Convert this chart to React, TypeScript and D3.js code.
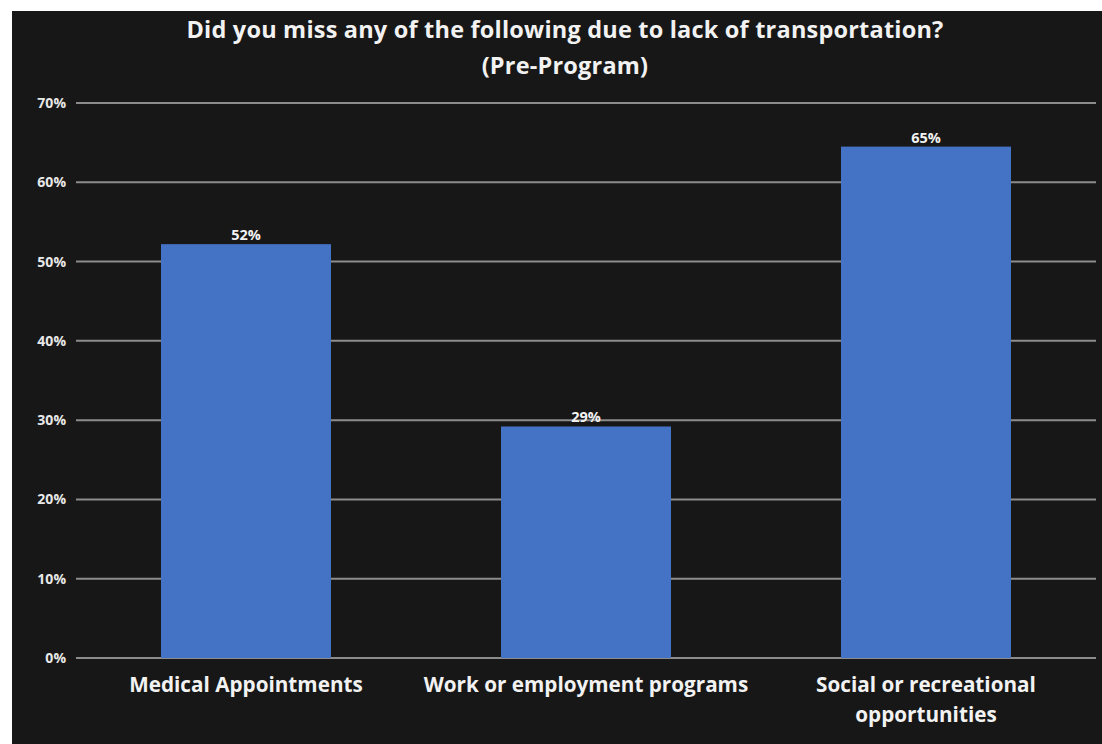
import React from "react";
import * as d3 from "d3";

const categories: string[][] = [
  ["Medical Appointments"],
  ["Work or employment programs"],
  ["Social or recreational", "opportunities"],
];
const values: number[] = [52.2, 29.2, 64.5];
const labels: string[] = ["52%", "29%", "65%"];
const yTicks: number[] = [0, 10, 20, 30, 40, 50, 60, 70];
const titleLines: string[] = [
  "Did you miss any of the following due to lack of transportation?",
  "(Pre-Program)",
];

const W = 1102;
const H = 744;
const FONT = "'Open Sans', 'Noto Sans', sans-serif";

export default function App() {
  const x = d3
    .scaleBand<number>()
    .domain(categories.map((_, i) => i))
    .range([76, 1096])
    .paddingInner(0.5)
    .paddingOuter(0.25);
  const y = d3.scaleLinear().domain([0, 70]).range([658, 103]);

  return (
    <svg
      width={W}
      height={H}
      style={{ position: "absolute", left: 0, top: 0 }}
      fontFamily={FONT}
    >
      <rect x={0} y={0} width={W} height={H} fill="#ffffff" />
      <rect x={12} y={11} width={W - 12} height={H - 11} fill="#171717" />
      {titleLines.map((t, i) => (
        <text
          key={i}
          x={565}
          y={38 + i * 36}
          textAnchor="middle"
          fill="#f2f2f2"
          fontSize={23.5}
          fontWeight={700}
          letterSpacing={0.2}
        >
          {t}
        </text>
      ))}
      {yTicks.map((t) => (
        <g key={t}>
          <line
            x1={76}
            x2={1096}
            y1={y(t)}
            y2={y(t)}
            stroke="#8c8c8c"
            strokeWidth={2}
          />
          <text
            x={66}
            y={y(t) + 5}
            textAnchor="end"
            fill="#e8e8e8"
            fontSize={14}
            fontWeight={700}
          >
            {t}%
          </text>
        </g>
      ))}
      {values.map((v, i) => (
        <g key={i}>
          <rect
            x={x(i)!}
            y={y(v)}
            width={x.bandwidth()}
            height={y(0) - y(v)}
            fill="#4472C4"
          />
          <text
            x={x(i)! + x.bandwidth() / 2}
            y={y(v) - 4}
            textAnchor="middle"
            fill="#f2f2f2"
            fontSize={14.5}
            fontWeight={700}
          >
            {labels[i]}
          </text>
        </g>
      ))}
      {categories.map((lines, i) =>
        lines.map((l, j) => (
          <text
            key={`${i}-${j}`}
            x={x(i)! + x.bandwidth() / 2}
            y={692 + j * 30}
            textAnchor="middle"
            fill="#f2f2f2"
            fontSize={20.7}
            fontWeight={700}
          >
            {l}
          </text>
        ))
      )}
    </svg>
  );
}
